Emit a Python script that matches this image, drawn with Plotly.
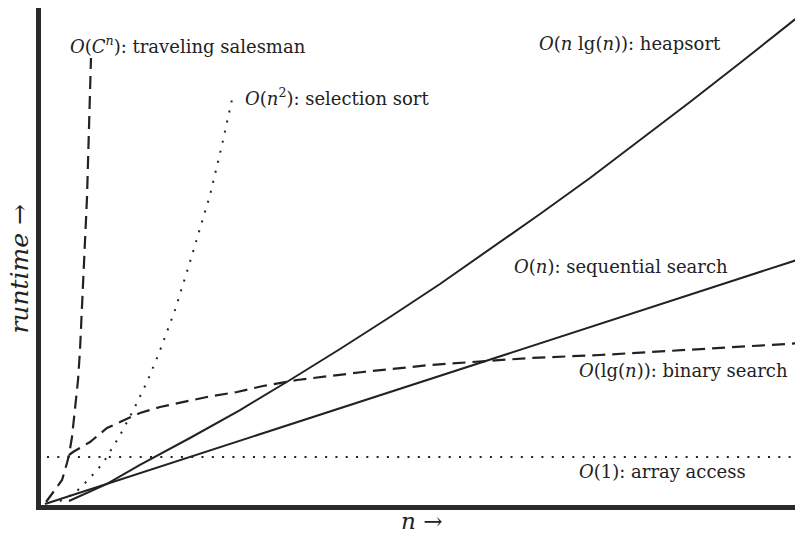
import plotly.graph_objects as go

# ---- data (abstract units: n on [0,100], runtime on [0,100]) ----
const_x = [0.79, 98.95]
const_y = [9.66, 9.66]

lg_x = [3.67, 4.20, 6.43, 8.66, 10.37, 12.99, 15.62, 18.64, 21.78, 25.72, 29.13,
        33.60, 42.26, 51.05, 59.84, 64.17, 73.36, 86.48, 100.0]
lg_y = [10.06, 10.66, 12.68, 15.49, 16.70, 18.51, 19.72, 20.72, 21.73, 22.74, 23.94,
        25.15, 26.76, 28.17, 29.18, 29.58, 30.18, 31.39, 32.60]

lin_x = [0.52, 50.26, 100.0]
lin_y = [0.20, 24.95, 49.70]

nlg_x = [3.67, 8.66, 12.99, 19.55, 26.12, 32.68, 39.24, 45.80, 52.36, 58.92,
         65.49, 72.05, 78.61, 85.17, 91.73, 100.0]
nlg_y = [0.80, 4.23, 8.05, 13.48, 19.11, 25.15, 31.39, 37.83, 44.47, 51.51,
         58.55, 65.79, 73.44, 81.09, 88.93, 98.99]

sq_x = [2.49, 4.46, 6.30, 8.14, 10.24, 12.20, 13.91, 15.49, 17.59, 19.55, 22.18, 23.75, 25.20]
sq_y = [0.80, 2.41, 5.23, 8.45, 13.68, 19.32, 24.75, 30.58, 39.24, 48.89, 62.37, 72.43, 82.49]

exp_x = [0.66, 1.84, 2.76, 3.41, 3.67, 4.07, 4.46, 4.86, 5.12, 5.64, 6.04, 6.30, 6.56]
exp_y = [0.60, 3.02, 5.03, 8.45, 10.06, 13.68, 19.11, 25.15, 31.19, 48.29, 61.97, 76.06, 89.94]

labels = [
    "<i>O</i>(<i>C</i><sup><i>n</i></sup>): traveling salesman",
    "<i>O</i>(<i>n</i><sup>2</sup>): selection sort",
    "<i>O</i>(<i>n</i> lg(<i>n</i>)): heapsort",
    "<i>O</i>(<i>n</i>): sequential search",
    "<i>O</i>(lg(<i>n</i>)): binary search",
    "<i>O</i>(1): array access",
]
label_x = [3.54, 26.51, 65.09, 61.81, 70.34, 70.34]
label_y = [92.56, 82.09, 92.76, 47.89, 27.16, 6.84]

INK = "#222222"
DOT = "2px,8.3px"
DASH = "13px,7px"

fig = go.Figure()
fig.add_trace(go.Scatter(x=const_x, y=const_y, mode="lines",
                         line=dict(color=INK, width=2, dash=DOT)))
fig.add_trace(go.Scatter(x=lg_x, y=lg_y, mode="lines",
                         line=dict(color=INK, width=2.2, dash=DASH)))
fig.add_trace(go.Scatter(x=lin_x, y=lin_y, mode="lines",
                         line=dict(color=INK, width=2)))
fig.add_trace(go.Scatter(x=nlg_x, y=nlg_y, mode="lines",
                         line=dict(color=INK, width=2)))
fig.add_trace(go.Scatter(x=sq_x, y=sq_y, mode="lines",
                         line=dict(color=INK, width=2, dash=DOT)))
fig.add_trace(go.Scatter(x=exp_x, y=exp_y, mode="lines",
                         line=dict(color=INK, width=2.2, dash=DASH)))

FONT = "DejaVu Serif"
for t, x, y in zip(labels, label_x, label_y):
    fig.add_annotation(x=x, y=y, xref="x", yref="y", text=t, showarrow=False,
                       xanchor="left", yanchor="middle",
                       font=dict(family=FONT, size=18, color=INK))

fig.add_annotation(x=-0.028, y=0.475, xref="paper", yref="paper",
                   text="<i>runtime</i> →", textangle=-90, showarrow=False,
                   xanchor="center", yanchor="middle", borderpad=0,
                   font=dict(family=FONT, size=25, color=INK))
fig.add_annotation(x=0.499, y=-0.033, xref="paper", yref="paper",
                   text="<i>n</i> →", showarrow=False,
                   xanchor="center", yanchor="middle",
                   font=dict(family=FONT, size=23, color=INK))

axis = dict(range=[0, 100], showline=True, linewidth=5, linecolor="#2a2a2a",
            showgrid=False, zeroline=False, showticklabels=False, ticks="",
            fixedrange=True)
# the page body adds an 8px offset, so the figure is 8px smaller than the window
fig.update_layout(
    width=795, height=528,
    margin=dict(l=33, r=0, t=0, b=31),
    paper_bgcolor="white", plot_bgcolor="white",
    showlegend=False,
    xaxis=axis, yaxis=axis,
)
fig.write_html("out.html")
